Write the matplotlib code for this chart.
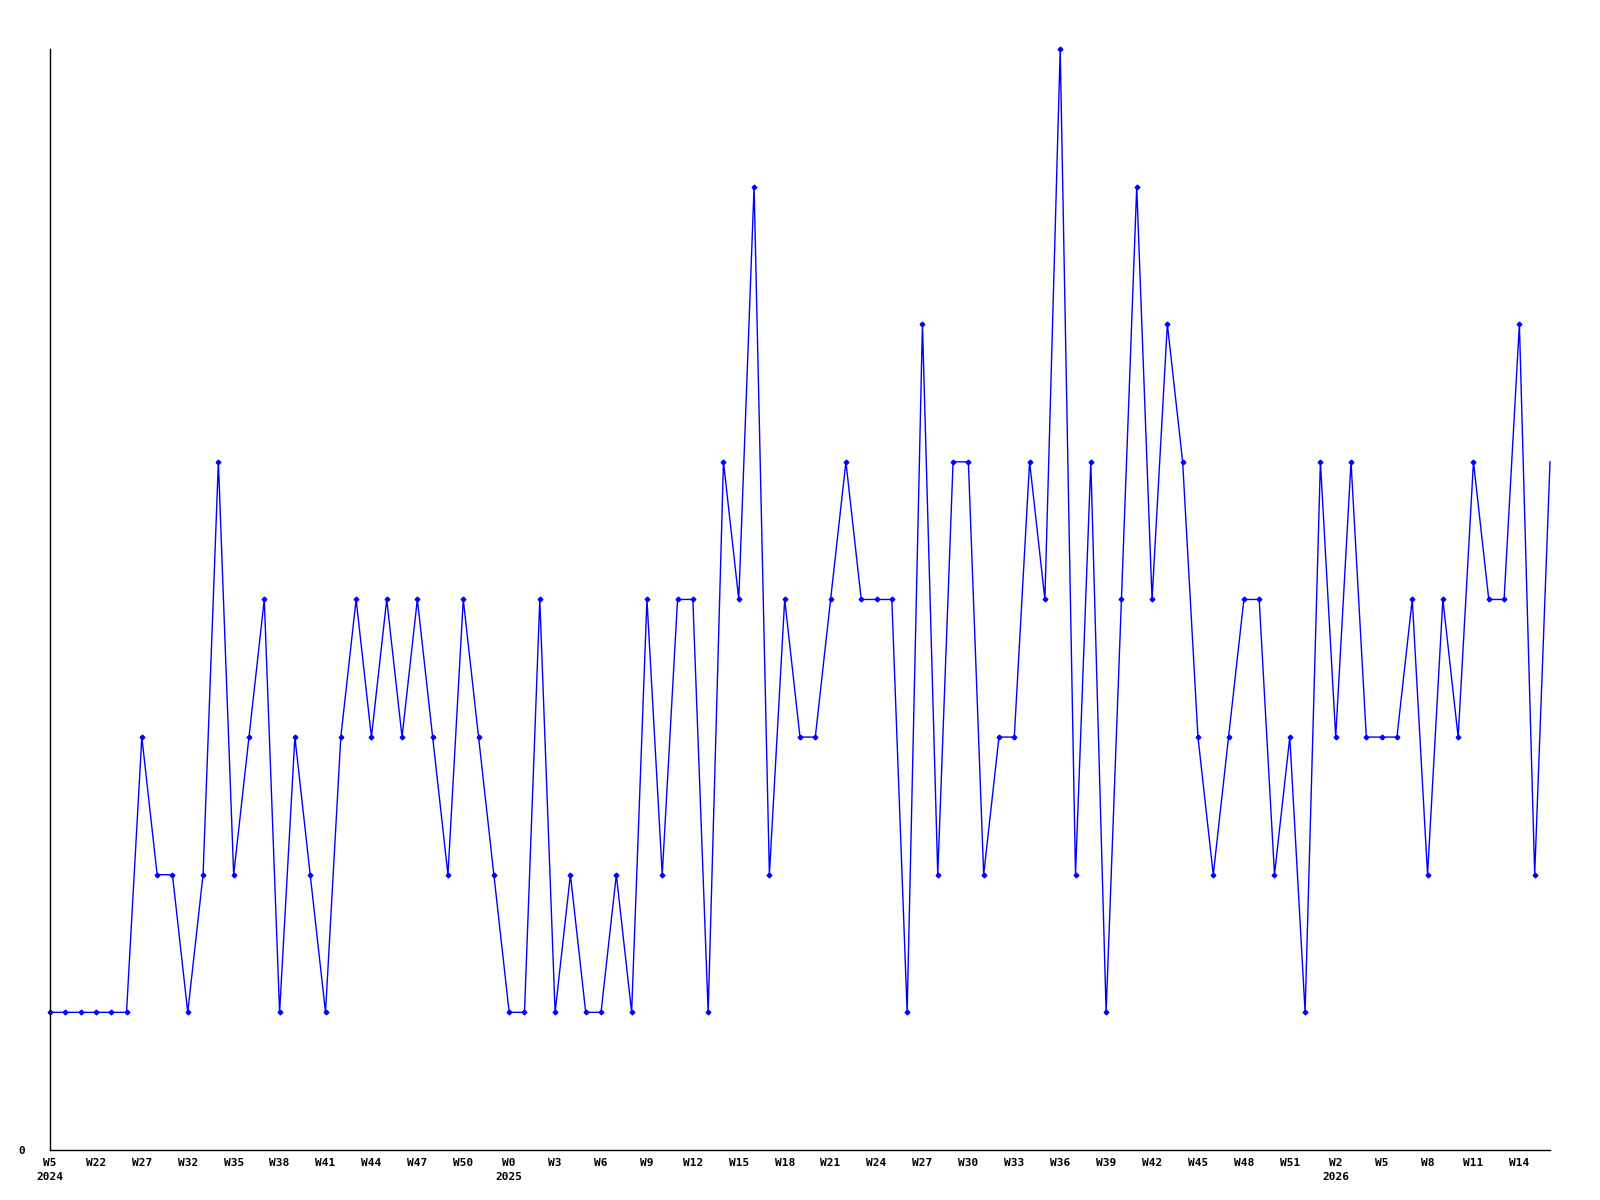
import matplotlib
matplotlib.use("Agg")
import matplotlib.pyplot as plt
import numpy as np

# weekly counts, one point per week shown
counts = [1, 1, 1, 1, 1, 1, 3, 2, 2, 1,
          2, 5, 2, 3, 4, 1, 3, 2, 1, 3,
          4, 3, 4, 3, 4, 3, 2, 4, 3, 2,
          1, 1, 4, 1, 2, 1, 1, 2, 1, 4,
          2, 4, 4, 1, 5, 4, 7, 2, 4, 3,
          3, 4, 5, 4, 4, 4, 1, 6, 2, 5,
          5, 2, 3, 3, 5, 4, 8, 2, 5, 1,
          4, 7, 4, 6, 5, 3, 2, 3, 4, 4,
          2, 3, 1, 5, 3, 5, 3, 3, 3, 4,
          2, 4, 3, 5, 4, 4, 6, 2, 5]

week_labels = ["W5", "W22", "W27", "W32", "W35", "W38", "W41", "W44", "W47", "W50",
               "W0", "W3", "W6", "W9", "W12", "W15", "W18", "W21", "W24", "W27",
               "W30", "W33", "W36", "W39", "W42", "W45", "W48", "W51", "W2", "W5",
               "W8", "W11", "W14"]
label_step = 3
year_labels = {0: "2024", 10: "2025", 28: "2026"}   # index in week_labels -> year

x = np.arange(len(counts))
mono = dict(family="DejaVu Sans Mono", fontweight="bold", fontsize=8)

fig = plt.figure(figsize=(16, 12), dpi=100)
ax = fig.add_axes([0.03125, 0.0417, 0.9375, 0.9175])
ax.plot(x, counts, color="#0000ff", lw=1.0, marker="D", ms=2.4,
        markevery=list(range(len(counts) - 1)), clip_on=False)

ax.set_xlim(0, len(counts) - 1)
ax.set_ylim(0, max(counts))
for s in ("top", "right"):
    ax.spines[s].set_visible(False)
ax.spines["left"].set_linewidth(1.0)
ax.spines["bottom"].set_linewidth(1.0)

tick_pos = x[::label_step][:len(week_labels)]
ax.set_xticks(tick_pos)
ax.set_xticklabels(week_labels, **mono)
ax.set_yticks([0])
ax.set_yticklabels(["0"], **mono)
ax.tick_params(axis="both", length=0)
ax.tick_params(axis="x", pad=6)
ax.tick_params(axis="y", pad=18)

for k, yr in year_labels.items():
    ax.annotate(yr, xy=(tick_pos[k], 0), xycoords=("data", "axes fraction"),
                xytext=(0, -16), textcoords="offset points",
                ha="center", va="top", **mono)

fig.savefig("out.png", dpi=100)
